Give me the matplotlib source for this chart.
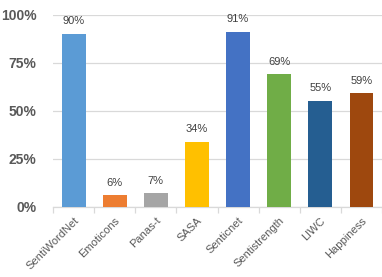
import matplotlib
matplotlib.use("Agg")
import matplotlib.pyplot as plt
import numpy as np

# data
categories = ["SentiWordNet", "Emoticons", "Panas-t", "SASA",
              "Senticnet", "Sentistrength", "LIWC", "Happiness"]
values = [90, 6, 7, 34, 91, 69, 55, 59]
bar_colors = ["#5B9BD5", "#ED7D31", "#A5A5A5", "#FFC000",
              "#4472C4", "#70AD47", "#255E91", "#9E480E"]
y_ticks = [0, 25, 50, 75, 100]

plt.rcParams["font.family"] = ["Liberation Sans", "DejaVu Sans"]

fig = plt.figure(figsize=(3.82, 2.77), dpi=100)
ax = fig.add_axes([0.139, 0.253, 0.861, 0.694])

x = np.arange(len(categories))
bars = ax.bar(x, values, width=0.58, color=bar_colors, zorder=3)

# value labels above bars
for bar, v in zip(bars, values):
    ax.text(bar.get_x() + bar.get_width() / 2, v + 4, f"{v}%",
            ha="center", va="bottom", fontsize=8, color="#404040")

ax.set_ylim(0, 100)
ax.set_xlim(-0.5, 7.41)
ax.set_yticks(y_ticks)
ax.set_yticklabels([f"{t}%" for t in y_ticks], fontsize=10,
                   fontweight="bold", color="#595959")
ax.tick_params(axis="y", length=0, pad=12)
ax.grid(axis="y", color="#D9D9D9", linewidth=0.9, zorder=0)

# category labels at centers, tick marks at category boundaries
ax.set_xticks(x)
ax.set_xticklabels(categories, rotation=45, ha="right",
                   rotation_mode="anchor", fontsize=8, color="#595959")
ax.tick_params(axis="x", which="major", length=0, pad=6)
ax.set_xticks(np.arange(-0.5, len(categories), 1), minor=True)
ax.tick_params(axis="x", which="minor", length=4, color="#D9D9D9", width=0.9)

for side in ["top", "right", "left"]:
    ax.spines[side].set_visible(False)
ax.spines["bottom"].set_color("#D9D9D9")
ax.spines["bottom"].set_linewidth(0.9)

fig.savefig("out.png", dpi=100)
